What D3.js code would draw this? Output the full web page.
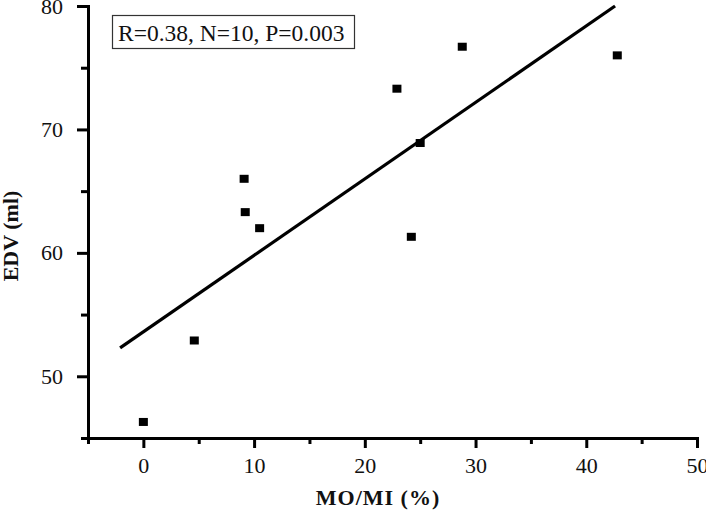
<!DOCTYPE html>
<html>
<head>
<meta charset="utf-8">
<script src="https://cdn.jsdelivr.net/npm/d3@7"></script>
<style>
  body { margin: 0; background: #fff; }
  svg { display: block; }
</style>
</head>
<body>
<div class="chart"></div>
<script>
// data
var moMi = [0, 4.6, 9.1, 9.2, 10.5, 22.9, 24.2, 25.0, 28.8, 42.8]
var edv = [46.3, 52.9, 66.0, 63.3, 62.0, 73.3, 61.3, 68.9, 76.7, 76.0]
var fitX = [-2.1, 42.6]
var fitY = [52.3, 80]
var xTicks = [0, 10, 20, 30, 40, 50]
var xMinor = [-5, 5, 15, 25, 35, 45]
var yTicks = [50, 60, 70, 80]
var yMinor = [45, 55, 65, 75]
var statsLabel = 'R=0.38, N=10, P=0.003'

var serif = '"Liberation Serif", "Times New Roman", serif'

var margin = { top: 6, right: 9, bottom: 73, left: 88 }
var width = 706 - margin.left - margin.right
var height = 511 - margin.top - margin.bottom

var svg = d3.select('.chart').append('svg')
    .attr('width', 706)
    .attr('height', 511)
    .append('g')
    .attr('transform', 'translate(' + margin.left + ',' + margin.top + ')')

var x = d3.scaleLinear().domain([-5, 50]).range([0, width])
var y = d3.scaleLinear().domain([45, 80]).range([height, 0])

function styleAxis(g) {
    g.attr('font-family', serif).attr('font-size', 22)
    g.selectAll('path, line').attr('stroke', '#000').attr('stroke-width', 3)
    g.select('path').attr('stroke-linecap', 'square')
    g.selectAll('text').attr('fill', '#111')
        .style('font-family', serif).style('font-size', '22px')
}

// minor ticks first, majors on top
svg.append('g')
    .attr('transform', 'translate(0,' + height + ')')
    .call(d3.axisBottom(x).tickValues(xMinor).tickSize(6).tickSizeOuter(0).tickFormat(''))
    .call(styleAxis)
svg.append('g')
    .attr('transform', 'translate(0,' + height + ')')
    .call(d3.axisBottom(x).tickValues(xTicks).tickSize(10).tickSizeOuter(0).tickPadding(9))
    .call(styleAxis)

svg.append('g')
    .call(d3.axisLeft(y).tickValues(yMinor).tickSize(7).tickSizeOuter(0).tickFormat(''))
    .call(styleAxis)
svg.append('g')
    .call(d3.axisLeft(y).tickValues(yTicks).tickSize(11).tickSizeOuter(0).tickPadding(14))
    .call(styleAxis)

// regression line
var fit = fitX.map(function(d, i) { return [d, fitY[i]] })
svg.append('path')
    .datum(fit)
    .attr('d', d3.line().x(function(d) { return x(d[0]) }).y(function(d) { return y(d[1]) }))
    .attr('fill', 'none')
    .attr('stroke', '#000')
    .attr('stroke-width', 3.2)

// points
svg.selectAll('rect.pt')
    .data(moMi)
    .enter()
    .append('rect')
    .attr('class', 'pt')
    .attr('x', function(d) { return x(d) - 4.5 })
    .attr('y', function(d, i) { return y(edv[i]) - 4 })
    .attr('width', 9)
    .attr('height', 8)
    .attr('fill', '#000')

// stats box
svg.append('rect')
    .attr('x', 24.5)
    .attr('y', 9.5)
    .attr('width', 242)
    .attr('height', 33)
    .attr('fill', '#fff')
    .attr('stroke', '#333')
    .attr('stroke-width', 1.2)
svg.append('text')
    .attr('x', 30)
    .attr('y', 34.5)
    .style('font-family', serif)
    .style('font-size', '23.5px')
    .style('fill', '#111')
    .text(statsLabel)

// axis titles
svg.append('text')
    .attr('x', 378 - margin.left)
    .attr('y', 505 - margin.top)
    .attr('text-anchor', 'middle')
    .style('font-family', serif)
    .style('font-weight', 'bold')
    .style('font-size', '22px')
    .style('letter-spacing', '1px')
    .style('fill', '#111')
    .text('MO/MI (%)')
svg.append('text')
    .attr('transform', 'translate(' + (18 - margin.left) + ',' + (236 - margin.top) + ') rotate(-90)')
    .attr('text-anchor', 'middle')
    .style('font-family', serif)
    .style('font-weight', 'bold')
    .style('font-size', '22px')
    .style('fill', '#111')
    .text('EDV (ml)')
</script>
</body>
</html>
